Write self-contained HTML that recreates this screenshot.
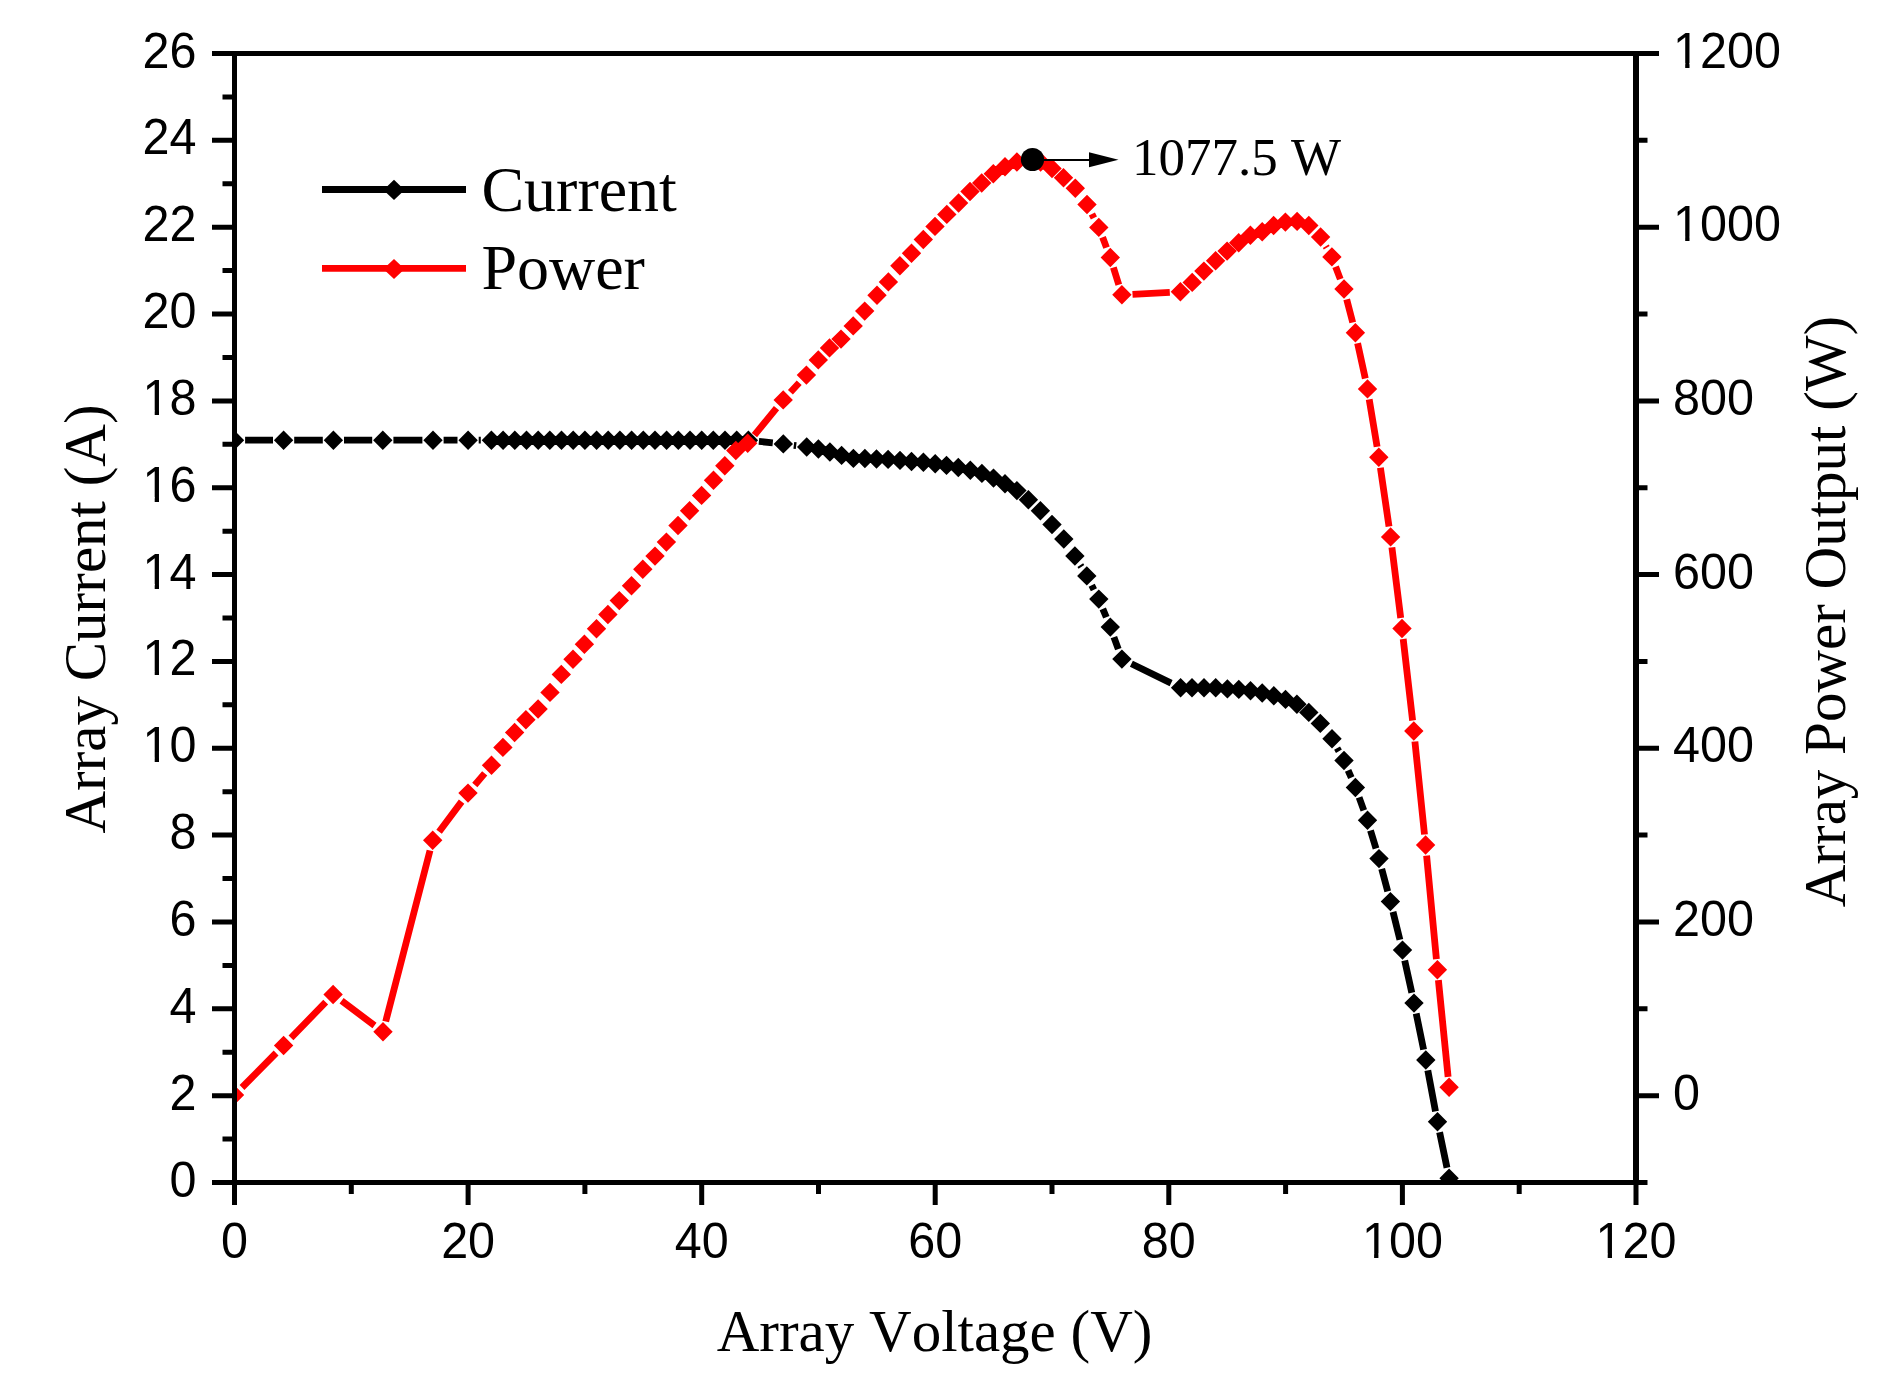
<!DOCTYPE html>
<html><head><meta charset="utf-8"><title>Array I-V and P-V curves</title>
<style>
html,body{margin:0;padding:0;background:#fff;}
body{width:1883px;height:1376px;overflow:hidden;}
svg{display:block;}
.tk{font-family:"Liberation Sans",Arial,sans-serif;font-size:48.5px;fill:#000;font-kerning:none;}
.tt{font-family:"Liberation Serif","Times New Roman",serif;fill:#000;font-kerning:none;}
</style></head><body>
<svg width="1883" height="1376" viewBox="0 0 1883 1376">
<rect x="0" y="0" width="1883" height="1376" fill="#fff"/>
<defs><clipPath id="plot"><rect x="234.5" y="53.5" width="1401.5" height="1129"/></clipPath></defs>
<g clip-path="url(#plot)">
<path d="M245.1 440.2L273 440.2M294.2 440.2L322.8 440.2M344 440.2L372.2 440.2M393.4 440.2L422.4 440.2M443.6 440.2L457.5 440.2M478.7 440.2L480.8 440.2M758.9 441.4L772.8 442.8M793.8 445.3L796.2 445.6M1080.3 565.1L1081.4 566.8M1091.7 585.3L1093.9 589.7M1102.8 608.9L1106.3 617.3M1113.9 637.1L1118.3 649.1M1131.4 663.8L1171.1 683.1M1337.1 748.1L1338.9 751.2M1348.1 770.3L1351.3 777.7M1359.1 797.4L1363.8 810.3M1370.5 830.4L1376 848.4M1381.7 868.8L1387.7 891.4M1393 911.9L1399.9 939.8M1404.7 960.5L1411.8 992.7M1416.2 1013.5L1423.6 1049.6M1427.8 1070.4L1435.5 1111.4M1439.6 1132.2L1447 1167.8" fill="none" stroke="#000" stroke-width="6.8" stroke-linecap="butt"/>
<path d="M234.5 430.5L244.2 440.2L234.5 449.9L224.8 440.2ZM283.6 430.5L293.3 440.2L283.6 449.9L273.9 440.2ZM333.4 430.5L343.1 440.2L333.4 449.9L323.7 440.2ZM382.8 430.5L392.5 440.2L382.8 449.9L373.1 440.2ZM433 430.5L442.7 440.2L433 449.9L423.3 440.2ZM468.1 430.5L477.8 440.2L468.1 449.9L458.4 440.2ZM491.4 430.5L501.1 440.2L491.4 449.9L481.7 440.2ZM503.1 430.6L512.8 440.3L503.1 450L493.4 440.3ZM514.8 430.6L524.5 440.3L514.8 450L505.1 440.3ZM526.5 430.6L536.2 440.3L526.5 450L516.8 440.3ZM538.2 430.6L547.9 440.3L538.2 450L528.5 440.3ZM549.8 430.6L559.5 440.3L549.8 450L540.1 440.3ZM561.5 430.6L571.2 440.3L561.5 450L551.8 440.3ZM573.2 430.6L582.9 440.3L573.2 450L563.5 440.3ZM584.9 430.6L594.6 440.3L584.9 450L575.2 440.3ZM596.6 430.6L606.3 440.3L596.6 450L586.9 440.3ZM608.2 430.6L617.9 440.3L608.2 450L598.5 440.3ZM619.9 430.6L629.6 440.3L619.9 450L610.2 440.3ZM631.6 430.6L641.3 440.3L631.6 450L621.9 440.3ZM643.3 430.6L653 440.3L643.3 450L633.6 440.3ZM655 430.6L664.7 440.3L655 450L645.2 440.3ZM666.6 430.6L676.3 440.3L666.6 450L656.9 440.3ZM678.3 430.6L688 440.3L678.3 450L668.6 440.3ZM690 430.6L699.7 440.3L690 450L680.3 440.3ZM701.7 430.6L711.4 440.3L701.7 450L692 440.3ZM713.3 430.6L723 440.3L713.3 450L703.6 440.3ZM725 430.6L734.7 440.3L725 450L715.3 440.3ZM736.7 430.6L746.4 440.3L736.7 450L727 440.3ZM748.4 430.6L758.1 440.3L748.4 450L738.7 440.3ZM783.3 434.2L793 443.9L783.3 453.6L773.6 443.9ZM806.7 437.3L816.4 447L806.7 456.7L797 447ZM818.4 439.3L828.1 449L818.4 458.7L808.7 449ZM829.9 442.3L839.6 452L829.9 461.7L820.2 452ZM841.6 445.7L851.3 455.4L841.6 465.1L831.9 455.4ZM853.4 448.7L863.1 458.4L853.4 468.1L843.7 458.4ZM864.9 448.8L874.6 458.5L864.9 468.2L855.2 458.5ZM876.5 449.3L886.2 459L876.5 468.7L866.8 459ZM888.1 449.7L897.8 459.4L888.1 469.1L878.4 459.4ZM900 450.7L909.7 460.4L900 470.1L890.3 460.4ZM911.5 451.8L921.2 461.5L911.5 471.2L901.8 461.5ZM923.4 452.6L933.1 462.3L923.4 472L913.7 462.3ZM935.2 454.1L944.9 463.8L935.2 473.5L925.5 463.8ZM946.5 455.7L956.2 465.4L946.5 475.1L936.8 465.4ZM958.3 457.8L968 467.5L958.3 477.2L948.6 467.5ZM970.3 460.5L980 470.2L970.3 479.9L960.6 470.2ZM981.9 463.7L991.6 473.4L981.9 483.1L972.2 473.4ZM993.5 468.4L1003.2 478.1L993.5 487.8L983.8 478.1ZM1005 474L1014.7 483.7L1005 493.4L995.3 483.7ZM1016.9 480.9L1026.6 490.6L1016.9 500.3L1007.2 490.6ZM1028.4 490L1038.1 499.7L1028.4 509.4L1018.7 499.7ZM1040.4 501.1L1050.1 510.8L1040.4 520.5L1030.7 510.8ZM1052 514.8L1061.7 524.5L1052 534.2L1042.3 524.5ZM1063.8 529.3L1073.5 539L1063.8 548.7L1054.1 539ZM1074.9 546.3L1084.6 556L1074.9 565.7L1065.2 556ZM1086.8 566.2L1096.5 575.9L1086.8 585.6L1077.1 575.9ZM1098.8 589.4L1108.5 599.1L1098.8 608.8L1089.1 599.1ZM1110.3 617.4L1120 627.1L1110.3 636.8L1100.6 627.1ZM1121.9 649.4L1131.6 659.1L1121.9 668.8L1112.2 659.1ZM1180.6 678.1L1190.3 687.8L1180.6 697.5L1170.9 687.8ZM1192 678.1L1201.7 687.8L1192 697.5L1182.3 687.8ZM1204 678.1L1213.7 687.8L1204 697.5L1194.3 687.8ZM1215.7 678.1L1225.4 687.8L1215.7 697.5L1206 687.8ZM1227.4 679.2L1237.1 688.9L1227.4 698.6L1217.7 688.9ZM1238.8 679.7L1248.5 689.4L1238.8 699.1L1229.1 689.4ZM1250.5 681.1L1260.2 690.8L1250.5 700.5L1240.8 690.8ZM1262.2 683.3L1271.9 693L1262.2 702.7L1252.5 693ZM1273.8 686.1L1283.5 695.8L1273.8 705.5L1264.1 695.8ZM1285.5 689.7L1295.2 699.4L1285.5 709.1L1275.8 699.4ZM1296.9 694.6L1306.6 704.3L1296.9 714L1287.2 704.3ZM1308.8 702.7L1318.5 712.4L1308.8 722.1L1299.1 712.4ZM1320.3 713.7L1330 723.4L1320.3 733.1L1310.6 723.4ZM1332 729.1L1341.7 738.8L1332 748.5L1322.3 738.8ZM1344 750.8L1353.7 760.5L1344 770.2L1334.3 760.5ZM1355.4 777.8L1365.1 787.5L1355.4 797.2L1345.7 787.5ZM1367.5 810.5L1377.2 820.2L1367.5 829.9L1357.8 820.2ZM1379 848.9L1388.7 858.6L1379 868.3L1369.3 858.6ZM1390.4 891.9L1400.1 901.6L1390.4 911.3L1380.7 901.6ZM1402.5 940.4L1412.2 950.1L1402.5 959.8L1392.8 950.1ZM1414 993.4L1423.7 1003.1L1414 1012.8L1404.3 1003.1ZM1425.8 1050.3L1435.5 1060L1425.8 1069.7L1416.1 1060ZM1437.5 1112.1L1447.2 1121.8L1437.5 1131.5L1427.8 1121.8ZM1449.1 1168.5L1458.8 1178.2L1449.1 1187.9L1439.4 1178.2Z" fill="#000"/>
<path d="M242 1087.5L276.1 1053M291 1037.9L325.7 1002.1M341.6 1000.8L374.5 1025.5M385.7 1021.5L430 850.5M439.1 831.7L461.6 801.6M474.8 785L484.7 773.4M754.4 435.1L776.5 408.1M790.4 392.2L799.2 382.8M1091.9 213.9L1093.9 218M1102.6 237.3L1106.5 247.6M1113.4 267.6L1118.8 284.7M1132.5 294.3L1169.8 292.3M1325.8 246.2L1326.7 247.7M1335.6 266.8L1340.3 279.1M1346.7 299.3L1352.7 322.5M1357.6 343.2L1365.3 378.5M1369.2 399.4L1377.1 446.7M1380.4 467.7L1389 526.4M1391.9 547.4L1400.7 618M1403.2 639L1412.6 720.5M1414.9 741.5L1424.5 834.5M1426.6 855.6L1436.4 959.1M1438.4 980.2L1448.1 1076.8" fill="none" stroke="#f00" stroke-width="6.8" stroke-linecap="butt"/>
<path d="M234.5 1085.3L244.2 1095L234.5 1104.7L224.8 1095ZM283.6 1035.8L293.3 1045.5L283.6 1055.2L273.9 1045.5ZM333.1 984.8L342.8 994.5L333.1 1004.2L323.4 994.5ZM383 1022.1L392.7 1031.8L383 1041.5L373.3 1031.8ZM432.7 830.5L442.4 840.2L432.7 849.9L423 840.2ZM468 783.4L477.7 793.1L468 802.8L458.3 793.1ZM491.5 755.6L501.2 765.3L491.5 775L481.8 765.3ZM502.9 737.7L512.6 747.4L502.9 757.1L493.2 747.4ZM514.6 722.8L524.3 732.5L514.6 742.2L504.9 732.5ZM525.9 710.1L535.6 719.8L525.9 729.5L516.2 719.8ZM538.1 699.3L547.8 709L538.1 718.7L528.4 709ZM550 682.7L559.7 692.4L550 702.1L540.3 692.4ZM561.3 664.7L571 674.4L561.3 684.1L551.6 674.4ZM573 649.6L582.7 659.3L573 669L563.3 659.3ZM584.4 634.6L594.1 644.3L584.4 654L574.7 644.3ZM596.5 619.1L606.2 628.8L596.5 638.5L586.8 628.8ZM607.9 604.8L617.6 614.5L607.9 624.2L598.2 614.5ZM619.3 590.9L629 600.6L619.3 610.3L609.6 600.6ZM631.5 576L641.2 585.7L631.5 595.4L621.8 585.7ZM642.8 559.5L652.5 569.2L642.8 578.9L633.1 569.2ZM655 546.4L664.7 556.1L655 565.8L645.3 556.1ZM666.4 532.4L676.1 542.1L666.4 551.8L656.7 542.1ZM678 515.8L687.7 525.5L678 535.2L668.3 525.5ZM689.6 501L699.3 510.7L689.6 520.4L679.9 510.7ZM701.6 485.7L711.3 495.4L701.6 505.1L691.9 495.4ZM713.5 470.5L723.2 480.2L713.5 489.9L703.8 480.2ZM724.8 456L734.5 465.7L724.8 475.4L715.1 465.7ZM735.8 440.8L745.5 450.5L735.8 460.2L726.1 450.5ZM747.7 433.6L757.4 443.3L747.7 453L738 443.3ZM783.2 390.2L792.9 399.9L783.2 409.6L773.5 399.9ZM806.4 365.4L816.1 375.1L806.4 384.8L796.7 375.1ZM818.3 350.2L828 359.9L818.3 369.6L808.6 359.9ZM829.5 338.2L839.2 347.9L829.5 357.6L819.8 347.9ZM841 329.4L850.7 339.1L841 348.8L831.3 339.1ZM853.2 316.2L862.9 325.9L853.2 335.6L843.5 325.9ZM864.7 301.4L874.4 311.1L864.7 320.8L855 311.1ZM877 285.5L886.7 295.2L877 304.9L867.3 295.2ZM888.4 272.2L898.1 281.9L888.4 291.6L878.7 281.9ZM899.9 256.1L909.6 265.8L899.9 275.5L890.2 265.8ZM911.5 243.6L921.2 253.3L911.5 263L901.8 253.3ZM923.3 229.8L933 239.5L923.3 249.2L913.6 239.5ZM935 216.7L944.7 226.4L935 236.1L925.3 226.4ZM946.8 204.7L956.5 214.4L946.8 224.1L937.1 214.4ZM958.6 193.3L968.3 203L958.6 212.7L948.9 203ZM970 181.8L979.7 191.5L970 201.2L960.3 191.5ZM981.7 173.3L991.4 183L981.7 192.7L972 183ZM993.3 164.1L1003 173.8L993.3 183.5L983.6 173.8ZM1005 157.1L1014.7 166.8L1005 176.5L995.3 166.8ZM1016.9 152.3L1026.6 162L1016.9 171.7L1007.2 162ZM1028.7 150.3L1038.4 160L1028.7 169.7L1019 160ZM1040.6 152.3L1050.3 162L1040.6 171.7L1030.9 162ZM1052 158.8L1061.7 168.5L1052 178.2L1042.3 168.5ZM1063.5 168L1073.2 177.7L1063.5 187.4L1053.8 177.7ZM1075.3 178.5L1085 188.2L1075.3 197.9L1065.6 188.2ZM1087 194.8L1096.7 204.5L1087 214.2L1077.3 204.5ZM1098.8 217.7L1108.5 227.4L1098.8 237.1L1089.1 227.4ZM1110.3 247.8L1120 257.5L1110.3 267.2L1100.6 257.5ZM1121.9 285.1L1131.6 294.8L1121.9 304.5L1112.2 294.8ZM1180.4 282.1L1190.1 291.8L1180.4 301.5L1170.7 291.8ZM1192.2 272.7L1201.9 282.4L1192.2 292.1L1182.5 282.4ZM1203.9 261.4L1213.6 271.1L1203.9 280.8L1194.2 271.1ZM1215.6 251.1L1225.3 260.8L1215.6 270.5L1205.9 260.8ZM1227.1 241.4L1236.8 251.1L1227.1 260.8L1217.4 251.1ZM1238.7 233.1L1248.4 242.8L1238.7 252.5L1229 242.8ZM1250.4 225.5L1260.1 235.2L1250.4 244.9L1240.7 235.2ZM1262.2 222.1L1271.9 231.8L1262.2 241.5L1252.5 231.8ZM1273.6 215.8L1283.3 225.5L1273.6 235.2L1263.9 225.5ZM1285.4 212.4L1295.1 222.1L1285.4 231.8L1275.7 222.1ZM1297.1 211.7L1306.8 221.4L1297.1 231.1L1287.4 221.4ZM1308.8 215.8L1318.5 225.5L1308.8 235.2L1299.1 225.5ZM1320.6 227.3L1330.3 237L1320.6 246.7L1310.9 237ZM1331.9 247.2L1341.6 256.9L1331.9 266.6L1322.2 256.9ZM1344 279.3L1353.7 289L1344 298.7L1334.3 289ZM1355.4 323.1L1365.1 332.8L1355.4 342.5L1345.7 332.8ZM1367.5 379.2L1377.2 388.9L1367.5 398.6L1357.8 388.9ZM1378.8 447.5L1388.5 457.2L1378.8 466.9L1369.1 457.2ZM1390.6 527.2L1400.3 536.9L1390.6 546.6L1380.9 536.9ZM1402 618.8L1411.7 628.5L1402 638.2L1392.3 628.5ZM1413.8 721.3L1423.5 731L1413.8 740.7L1404.1 731ZM1425.6 835.3L1435.3 845L1425.6 854.7L1415.9 845ZM1437.4 960L1447.1 969.7L1437.4 979.4L1427.7 969.7ZM1449.1 1077.6L1458.8 1087.3L1449.1 1097L1439.4 1087.3Z" fill="#f00"/>
</g>
<circle cx="1032.5" cy="159.5" r="11.6" fill="#000"/>
<line x1="1040" y1="160" x2="1092" y2="160" stroke="#000" stroke-width="2.2"/>
<path d="M1089 152.3L1118.5 159.8L1089 167.2Z" fill="#000"/>
<text class="tt" x="1132" y="174.8" font-size="53">1077.5 W</text>
<path d="M212 1182.5L234.5 1182.5M222.5 1139.1L234.5 1139.1M212 1095.7L234.5 1095.7M222.5 1052.2L234.5 1052.2M212 1008.8L234.5 1008.8M222.5 965.4L234.5 965.4M212 922L234.5 922M222.5 878.5L234.5 878.5M212 835.1L234.5 835.1M222.5 791.7L234.5 791.7M212 748.3L234.5 748.3M222.5 704.8L234.5 704.8M212 661.4L234.5 661.4M222.5 618L234.5 618M212 574.6L234.5 574.6M222.5 531.2L234.5 531.2M212 487.7L234.5 487.7M222.5 444.3L234.5 444.3M212 400.9L234.5 400.9M222.5 357.5L234.5 357.5M212 314L234.5 314M222.5 270.6L234.5 270.6M212 227.2L234.5 227.2M222.5 183.8L234.5 183.8M212 140.3L234.5 140.3M222.5 96.9L234.5 96.9M212 53.5L234.5 53.5M1636 1182.5L1647.5 1182.5M1636 1095.7L1659 1095.7M1636 1008.8L1647.5 1008.8M1636 922L1659 922M1636 835.1L1647.5 835.1M1636 748.3L1659 748.3M1636 661.4L1647.5 661.4M1636 574.6L1659 574.6M1636 487.7L1647.5 487.7M1636 400.9L1659 400.9M1636 314L1647.5 314M1636 227.2L1659 227.2M1636 140.3L1647.5 140.3M1636 53.5L1659 53.5M234.5 1182.5L234.5 1205M351.3 1182.5L351.3 1194M468.1 1182.5L468.1 1205M584.9 1182.5L584.9 1194M701.7 1182.5L701.7 1205M818.5 1182.5L818.5 1194M935.2 1182.5L935.2 1205M1052 1182.5L1052 1194M1168.8 1182.5L1168.8 1205M1285.6 1182.5L1285.6 1194M1402.4 1182.5L1402.4 1205M1519.2 1182.5L1519.2 1194M1636 1182.5L1636 1205" stroke="#000" stroke-width="5" fill="none"/>
<rect x="234.5" y="53.5" width="1401.5" height="1129" fill="none" stroke="#000" stroke-width="5"/>
<line x1="1636" y1="51" x2="1636" y2="1185" stroke="#000" stroke-width="6"/>
<text class="tk" transform="translate(196.5 1196.5) scale(1 1.03)" text-anchor="end">0</text>
<text class="tk" transform="translate(196.5 1109.7) scale(1 1.03)" text-anchor="end">2</text>
<text class="tk" transform="translate(196.5 1022.8) scale(1 1.03)" text-anchor="end">4</text>
<text class="tk" transform="translate(196.5 936) scale(1 1.03)" text-anchor="end">6</text>
<text class="tk" transform="translate(196.5 849.1) scale(1 1.03)" text-anchor="end">8</text>
<text class="tk" transform="translate(196.5 762.3) scale(1 1.03)" text-anchor="end">10</text>
<text class="tk" transform="translate(196.5 675.4) scale(1 1.03)" text-anchor="end">12</text>
<text class="tk" transform="translate(196.5 588.6) scale(1 1.03)" text-anchor="end">14</text>
<text class="tk" transform="translate(196.5 501.7) scale(1 1.03)" text-anchor="end">16</text>
<text class="tk" transform="translate(196.5 414.9) scale(1 1.03)" text-anchor="end">18</text>
<text class="tk" transform="translate(196.5 328) scale(1 1.03)" text-anchor="end">20</text>
<text class="tk" transform="translate(196.5 241.2) scale(1 1.03)" text-anchor="end">22</text>
<text class="tk" transform="translate(196.5 154.3) scale(1 1.03)" text-anchor="end">24</text>
<text class="tk" transform="translate(196.5 67.5) scale(1 1.03)" text-anchor="end">26</text>
<text class="tk" transform="translate(1673 1109.7) scale(1 1.03)">0</text>
<text class="tk" transform="translate(1673 936) scale(1 1.03)">200</text>
<text class="tk" transform="translate(1673 762.3) scale(1 1.03)">400</text>
<text class="tk" transform="translate(1673 588.6) scale(1 1.03)">600</text>
<text class="tk" transform="translate(1673 414.9) scale(1 1.03)">800</text>
<text class="tk" transform="translate(1673 241.2) scale(1 1.03)">1000</text>
<text class="tk" transform="translate(1673 67.5) scale(1 1.03)">1200</text>
<text class="tk" transform="translate(234.5 1258) scale(1 1.03)" text-anchor="middle">0</text>
<text class="tk" transform="translate(468.1 1258) scale(1 1.03)" text-anchor="middle">20</text>
<text class="tk" transform="translate(701.7 1258) scale(1 1.03)" text-anchor="middle">40</text>
<text class="tk" transform="translate(935.2 1258) scale(1 1.03)" text-anchor="middle">60</text>
<text class="tk" transform="translate(1168.8 1258) scale(1 1.03)" text-anchor="middle">80</text>
<text class="tk" transform="translate(1402.4 1258) scale(1 1.03)" text-anchor="middle">100</text>
<text class="tk" transform="translate(1636 1258) scale(1 1.03)" text-anchor="middle">120</text>
<path fill="#fff" d="M145.3 757.8h9.4v5.2h-9.4ZM159 757.8h9.1v5.2h-9.1ZM145.3 671h9.4v5.2h-9.4ZM159 671h9.1v5.2h-9.1ZM145.3 584.1h9.4v5.2h-9.4ZM159 584.1h9.1v5.2h-9.1ZM145.3 497.3h9.4v5.2h-9.4ZM159 497.3h9.1v5.2h-9.1ZM145.3 410.5h9.4v5.2h-9.4ZM159 410.5h9.1v5.2h-9.1ZM1675.8 236.8h9.4v5.2h-9.4ZM1689.5 236.8h9.1v5.2h-9.1ZM1675.8 63.1h9.4v5.2h-9.4ZM1689.5 63.1h9.1v5.2h-9.1ZM1364.7 1253.6h9.4v5.2h-9.4ZM1378.4 1253.6h9.1v5.2h-9.1ZM1598.3 1253.6h9.4v5.2h-9.4ZM1612 1253.6h9.1v5.2h-9.1Z"/>
<text class="tt" font-size="59" x="934.6" y="1351.2" text-anchor="middle">Array Voltage (V)</text>
<text class="tt" font-size="59" transform="translate(104.7 619) rotate(-90)" x="0" y="0" text-anchor="middle">Array Current (A)</text>
<text class="tt" font-size="59" transform="translate(1844.7 611.5) rotate(-90)" x="0" y="0" text-anchor="middle">Array Power Output (W)</text>
<line x1="322" y1="189.5" x2="466" y2="189.5" stroke="#000" stroke-width="6.8"/>
<path d="M394 179.8L404.6 189.9L394 200L383.4 189.9Z" fill="#000"/>
<line x1="322" y1="268.4" x2="466" y2="268.4" stroke="#f00" stroke-width="6.8"/>
<path d="M394 258.9L404.6 269L394 279.1L383.4 269Z" fill="#f00"/>
<text class="tt" font-size="64" x="481.4" y="210.5">Current</text>
<text class="tt" font-size="64" x="481.4" y="289.3">Power</text>
</svg>
</body></html>
